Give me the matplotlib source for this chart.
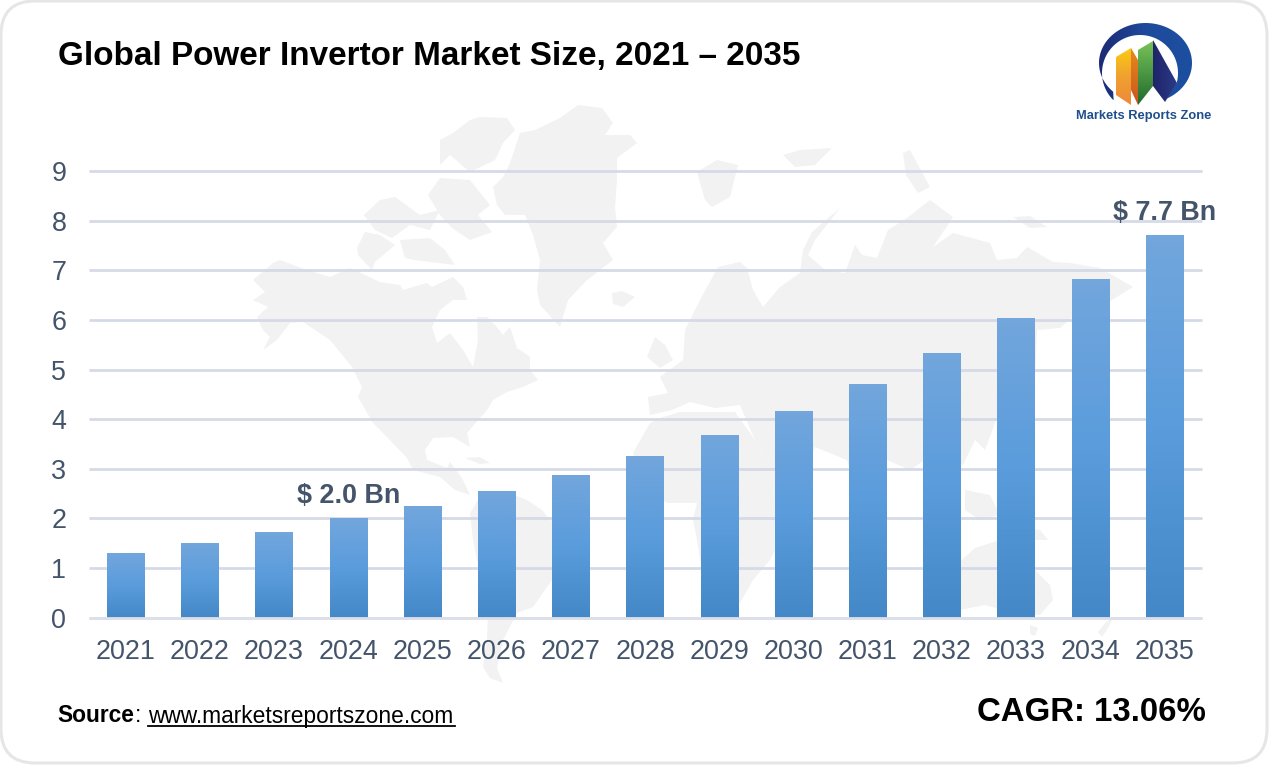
import numpy as np
import matplotlib
matplotlib.use('Agg')
import matplotlib.pyplot as plt
from matplotlib.colors import LinearSegmentedColormap
from matplotlib.patches import FancyBboxPatch, Polygon

W, H = 1269, 765

years = ['2021', '2022', '2023', '2024', '2025', '2026', '2027', '2028',
         '2029', '2030', '2031', '2032', '2033', '2034', '2035']
market_size = [1.30, 1.50, 1.73, 2.00, 2.25, 2.55, 2.87, 3.26,
               3.68, 4.16, 4.71, 5.33, 6.04, 6.82, 7.71]
y_ticks = [0, 1, 2, 3, 4, 5, 6, 7, 8, 9]

# rough world map behind the chart, in pixels
north_america = [(253, 280), (273, 263), (280, 260), (307, 270), (330, 277), (350, 268), (380, 282),
                 (400, 285), (403, 290), (427, 283), (432, 287), (453, 277), (463, 287), (467, 300),
                 (453, 300), (440, 310), (432, 327), (437, 343), (450, 333), (463, 350), (473, 367),
                 (478, 340), (477, 317), (487, 317), (497, 327), (503, 335), (510, 327), (517, 348),
                 (530, 357), (530, 370), (538, 380), (523, 387), (507, 392), (493, 400), (487, 410),
                 (467, 433), (470, 447), (453, 437), (433, 438), (425, 450), (427, 460), (447, 468),
                 (450, 462), (462, 478), (470, 495), (455, 490), (440, 477), (413, 470), (407, 458),
                 (387, 437), (373, 423), (358, 397), (362, 387), (352, 367), (330, 340), (303, 322),
                 (290, 323), (277, 340), (263, 350), (270, 337), (263, 330), (257, 317), (268, 307),
                 (253, 300), (265, 292)]
cuba = [(465, 458), (480, 457), (490, 463), (480, 464)]
greenland = [(520, 133), (535, 130), (560, 118), (578, 105), (602, 108), (613, 123), (605, 135),
             (630, 135), (637, 143), (617, 158), (617, 180), (615, 207), (617, 227), (603, 243),
             (613, 260), (587, 280), (568, 300), (560, 327), (540, 305), (537, 290), (540, 260),
             (533, 235), (525, 215), (505, 215), (497, 205), (493, 187), (503, 177), (510, 163)]
ellesmere = [(440, 140), (453, 133), (470, 120), (480, 117), (507, 118), (515, 130), (503, 143),
             (495, 160), (470, 172), (450, 155), (440, 165)]
baffin = [(440, 178), (470, 180), (490, 205), (478, 215), (492, 232), (470, 240), (452, 228),
          (440, 215), (428, 195)]
banks = [(364, 215), (380, 200), (395, 197), (420, 215), (440, 210), (430, 230), (410, 225),
         (392, 238), (375, 230)]
victoria = [(357, 248), (365, 232), (380, 235), (395, 245), (375, 262), (372, 270), (358, 255)]
arctic_mid = [(400, 240), (430, 238), (445, 250), (455, 265), (415, 260), (405, 258)]
south_america = [(470, 513), (483, 492), (507, 492), (527, 500), (542, 510), (550, 520), (575, 530),
                 (585, 545), (570, 570), (552, 580), (533, 607), (517, 613), (503, 640), (497, 668),
                 (503, 683), (490, 678), (483, 667), (487, 640), (488, 613), (473, 540)]
eurasia = [(648, 397), (668, 393), (660, 377), (683, 360), (685, 330), (700, 300), (718, 267),
           (740, 262), (747, 268), (753, 290), (763, 307), (780, 287), (800, 273), (803, 250),
           (812, 232), (840, 208), (815, 240), (808, 255), (825, 270), (845, 273), (855, 245),
           (862, 255), (877, 258), (888, 230), (907, 218), (930, 200), (953, 217), (933, 247),
           (953, 233), (990, 243), (997, 260), (1017, 258), (1027, 247), (1053, 262), (1070, 263),
           (1100, 268), (1133, 287), (1107, 303), (1073, 317), (1060, 328), (1037, 330), (1035, 380),
           (1000, 410), (985, 450), (975, 440), (963, 465), (945, 458), (925, 460), (910, 470),
           (887, 460), (875, 490), (868, 500), (850, 470), (847, 460), (815, 447), (805, 470),
           (775, 480), (755, 440), (740, 405), (715, 408), (690, 402), (672, 410), (650, 415)]
africa = [(660, 418), (680, 412), (735, 412), (755, 440), (775, 480), (795, 478), (805, 470),
          (792, 510), (780, 540), (770, 560), (753, 580), (740, 603), (720, 612), (705, 590),
          (697, 540), (693, 520), (697, 503), (667, 503), (645, 490), (633, 453), (650, 423)]
madagascar = [(790, 565), (796, 558), (795, 585), (786, 595)]
indonesia = [(965, 490), (990, 495), (1000, 515), (980, 520), (965, 510)]
new_guinea = [(1005, 525), (1040, 530), (1048, 540), (1025, 540)]
australia = [(945, 575), (975, 548), (1000, 540), (1015, 558), (1030, 565), (1050, 585), (1053, 600),
             (1040, 615), (1010, 612), (985, 605), (960, 610), (945, 600)]
tasmania = [(1030, 625), (1038, 628), (1035, 636), (1030, 634)]
new_zealand = [(1113, 618), (1108, 628), (1102, 637), (1098, 632), (1106, 622)]
svalbard = [(697, 172), (717, 160), (738, 165), (730, 197), (712, 207), (705, 200)]
novaya = [(783, 155), (800, 150), (832, 148), (815, 165), (795, 167)]
severnaya = [(903, 153), (910, 150), (930, 187), (918, 193), (906, 175)]
siberian = [(1013, 217), (1030, 216), (1047, 227), (1030, 228)]
iceland = [(612, 293), (622, 291), (635, 297), (623, 307), (613, 304)]
britain = [(655, 337), (665, 345), (673, 360), (660, 368), (647, 357)]
map_shapes = [north_america, cuba, greenland, ellesmere, baffin, banks, victoria, arctic_mid,
              south_america, eurasia, africa, madagascar, indonesia, new_guinea, australia,
              tasmania, new_zealand, svalbard, novaya, severnaya, siberian, iceland, britain]


def grad_poly(axes, points, colors, vertical=True):
    # polygon filled with a linear gradient, first colour at top or left
    pts = np.array(points)
    patch = Polygon(pts, closed=True, fc='none', ec='none')
    axes.add_patch(patch)
    ramp = np.linspace(0, 1, 64)
    ramp = ramp.reshape(-1, 1) if vertical else ramp.reshape(1, -1)
    cm = LinearSegmentedColormap.from_list('g', colors)
    im = axes.imshow(ramp, cmap=cm, aspect='auto', zorder=3,
                     extent=(pts[:, 0].min(), pts[:, 0].max(), pts[:, 1].max(), pts[:, 1].min()))
    im.set_clip_path(patch)


fig = plt.figure(figsize=(W / 100, H / 100), dpi=100, facecolor='white')
plt.rcParams['font.family'] = ['Liberation Sans', 'DejaVu Sans']

# pixel space layer for frame, map, logo and texts
bg = fig.add_axes([0, 0, 1, 1], zorder=0)
bg.set_xlim(0, W)
bg.set_ylim(H, 0)
bg.axis('off')
bg.add_patch(FancyBboxPatch((1, 1), W - 3, H - 3, boxstyle='round,pad=0,rounding_size=34',
                            fc='white', ec='#E6E6E6', lw=2.2))
for shape in map_shapes:
    bg.add_patch(Polygon(shape, closed=True, fc='#F2F2F2', ec='none'))

ax = fig.add_axes([88.5 / W, 1 - 617.7 / H, (1201.5 - 88.5) / W, (617.7 - 171) / H], zorder=1)
ax.patch.set_alpha(0)
x = np.arange(len(years))
bars = ax.bar(x, market_size, width=0.5, color='none', zorder=3)

cmap = LinearSegmentedColormap.from_list('bar', ['#4488C8', '#5A9CDC', '#72A6DC'])
for b in bars:
    im = ax.imshow(np.linspace(1, 0, 64).reshape(-1, 1), cmap=cmap, aspect='auto', zorder=3,
                   extent=(b.get_x(), b.get_x() + b.get_width(), 0, b.get_height()))
    im.set_clip_path(b)

ax.set_xlim(-0.5, len(years) - 0.5)
ax.set_ylim(0, 9)
ax.set_xticks(x)
ax.set_xticklabels(years)
ax.set_yticks(y_ticks)
ax.grid(axis='y', color='#D6DAE6', lw=2.0, zorder=1)
ax.set_axisbelow(True)
ax.axhline(0, color='#DDE0E8', lw=2.0, zorder=4, clip_on=False, solid_capstyle='butt')
ax.tick_params(axis='both', length=0, labelsize=19.4, labelcolor='#44546A')
ax.tick_params(axis='x', pad=15)
ax.tick_params(axis='y', pad=16)
for spine in ax.spines.values():
    spine.set_visible(False)
for line in ax.get_ygridlines():
    line.set_clip_on(False)
    line.set_solid_capstyle('butt')

ax.text(3, 2.0 + 0.18, '$ 2.0 Bn', ha='center', va='bottom', fontsize=19.4,
        fontweight='bold', color='#44546A')
ax.text(14, 7.71 + 0.19, '$ 7.7 Bn', ha='center', va='bottom', fontsize=19.4,
        fontweight='bold', color='#44546A', clip_on=False)

# header and footer
bg.text(58, 56.5, 'Global Power Invertor Market Size, 2021 – 2035', fontsize=23.96,
        fontweight='bold', color='black', va='center', ha='left')
bg.text(57.5, 716, 'Source', fontsize=16.4, fontweight='bold', color='black', va='center')
bg.text(135, 716, ':', fontsize=16.4, color='black', va='center')
bg.text(148, 716, 'www.marketsreportszone.com', fontsize=16.4, color='black', va='center')
bg.plot([148, 455], [726, 726], color='black', lw=1.3)
bg.text(1206, 712.5, 'CAGR: 13.06%', fontsize=23.8, fontweight='bold', color='black',
        va='center', ha='right')

# logo
t_out = np.radians(np.linspace(226, -63, 90))
t_in = np.radians(np.linspace(-15, 226, 90))
ring = np.r_[np.c_[1145.5 + 46.5 * np.cos(t_out), 63 - 40 * np.sin(t_out)],
             np.c_[1140 + 38 * np.cos(t_in), 73 - 38 * np.sin(t_in)]]
grad_poly(bg, ring, ['#1C2A75', '#1F4A9C', '#1C4FA0'], vertical=False)
grad_poly(bg, [(1153, 40), (1177, 83), (1165, 102), (1153, 86)], ['#1F2468', '#2A3A88'], vertical=False)
grad_poly(bg, [(1116, 57), (1131, 48), (1131, 105), (1116, 95)], ['#FBCB14', '#F0A030', '#EE8A3A'])
grad_poly(bg, [(1131, 48), (1138, 60), (1138, 105), (1131, 90)], ['#E8891E', '#C8561E'])
grad_poly(bg, [(1138, 50), (1153, 41), (1153, 86), (1138, 105)], ['#78C258', '#1F6B2E'])
bg.text(1144, 116, 'Markets Reports Zone', fontsize=9.3, fontweight='bold', color='#1F4E8C',
        ha='center', va='center')

fig.savefig('out.png', dpi=100)
